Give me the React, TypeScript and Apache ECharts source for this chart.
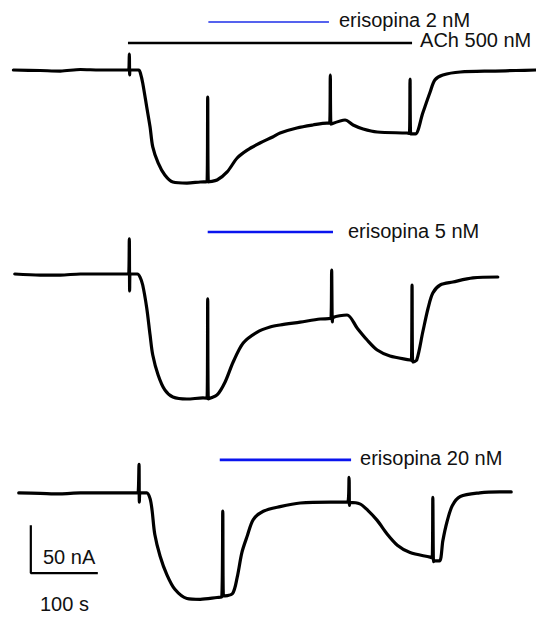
import React, { useEffect, useRef } from "react";
import * as echarts from "echarts";

// time in seconds, current in nA (baseline = 0)
const trace2nM: number[][] = [
  [20, 0], [60, -0.5], [90, -1], [120, 0.5], [149, 0], [188, 0],
  [192, 0], [193, 15.4], [193.5, -4.8], [194, 0],
  [207, 0], [210, -4], [213, -12.5], [219, -35.6], [224, -54.8], [228, -74], [236, -89.4],
  [246, -101], [258, -107.7], [279, -108.7], [299, -107.7],
  [309, -107.5], [310, -26], [311, -107.5],
  [324, -105.8], [339, -98], [354, -84.6], [369, -77], [388, -70.2], [407, -64.4],
  [418, -60.6], [443, -55.8], [467, -52.9], [488, -51],
  [492, -51], [493, -4.8], [494, -52],
  [515, -48.1], [527, -52.9], [542, -56.7], [563, -59.6], [607, -60.6],
  [611, -61], [612, -8.7], [613, -61.5],
  [620, -61.5], [631, -41.3], [642, -21.2], [649, -9.6], [661, -4.8], [687, -1.9],
  [739, -1], [770, -0.5], [800, 0],
];

const trace5nM: number[][] = [
  [22, 0], [60, -1], [90, -1], [120, 0], [149, 0], [190, 0],
  [192, 0], [193, 33.7], [193.5, -16.3], [194, 0],
  [205, 0], [209, -3], [213, -10.6], [219, -32.7], [224, -58.7], [228, -77.9], [236, -97.1],
  [246, -111.5], [258, -118.3], [279, -120.2], [303, -119.2],
  [309, -119.5], [310, -24], [311, -120],
  [324, -116.3], [336, -103.8], [348, -84.6], [363, -66.3], [384, -55.8], [403, -51],
  [418, -49], [448, -46.2], [478, -43.3],
  [494, -42.5], [495, 3.8], [496, -46], [497, -42],
  [518, -39.4], [533, -51.9], [548, -63.5], [563, -73.1], [582, -78.8], [612, -82.7],
  [614, -83], [615, -10.6], [616, -84.6],
  [622, -82.7], [631, -55.8], [639, -32.7], [646, -18.3], [657, -10.6], [676, -7.7],
  [706, -3.8], [743, -2.9],
];

const trace20nM: number[][] = [
  [28, 0], [60, -0.5], [90, -1], [120, 0], [149, 0], [204, 0],
  [206, 0], [207.5, 29.8], [208, -9.6], [209, 0],
  [219, 0], [224, -6], [227, -18.3], [231, -43.3], [239, -66.3], [249, -85.6], [261, -101],
  [279, -110.6], [299, -111.5], [324, -109.6],
  [331, -109], [332.5, -19.2], [333.5, -108],
  [347, -105.5], [354, -88.5], [361, -62.5], [369, -45.2], [378, -27.9], [393, -19.2],
  [418, -14.4], [448, -10.6], [493, -9.6],
  [519, -9.6], [521, 16.3], [521.5, -13], [522, -10],
  [537, -11.5], [549, -18.3], [563, -28.8], [578, -43.3], [593, -54.8], [612, -62.5],
  [642, -67.3],
  [645, -68], [646, -4.8], [647, -72], [648, -71],
  [656, -71.2], [661, -50], [667, -30.8], [675, -13.5], [687, -3.8], [716, 0],
  [746, 1], [763, 1],
];

const traces = [trace2nM, trace5nM, trace20nM];
const eriLabels = ["erisopina 2 nM", "erisopina 5 nM", "erisopina 20 nM"];
const eriPeriods = [[311, 491], [310, 497], [328, 524]];
const achLabel = "ACh 500 nM";
const achPeriod = [191, 615];
const scaleBarTime = 100; // s
const scaleBarCurrent = 50; // nA
const scaleBarLabels = ["50 nA", "100 s"];

// layout (pixels / style only)
const PX_PER_NA = 1.04;
const Y_MAX = 60;
const Y_MIN = -130;
const baselinesPx = [70, 274, 498];
const eriLevel = [46.2, 40.4, 34.6];
const eriWidth = [1.4, 2.6, 2.6];
const eriColor = ["#1c2ee8", "#0a14ee", "#0a14ee"];
const eriLabelOffset = [[10, -2], [15, -1], [9, -2]];
const achLevel = 26;
const FONT = "'Liberation Sans', Arial, Helvetica, sans-serif";

export default function App() {
  const ref = useRef<HTMLDivElement>(null);
  useEffect(() => {
    if (!ref.current) return;
    const chart = echarts.init(ref.current, undefined, { renderer: "svg" });
    const gridH = (Y_MAX - Y_MIN) * PX_PER_NA;
    const grids = baselinesPx.map((b) => ({
      left: 0,
      width: 536,
      top: b - Y_MAX * PX_PER_NA,
      height: gridH,
      containLabel: false,
    }));
    const xAxes = traces.map((_, i) => ({
      type: "value", gridIndex: i, min: 0, max: 800, show: false,
    }));
    const yAxes = traces.map((_, i) => ({
      type: "value", gridIndex: i, min: Y_MIN, max: Y_MAX, show: false,
    }));
    const series: any[] = [];
    traces.forEach((t, i) => {
      series.push({
        type: "line",
        xAxisIndex: i,
        yAxisIndex: i,
        data: t,
        symbol: "none",
        smooth: 0.3,
        clip: false,
        silent: true,
        lineStyle: { color: "#000", width: 3.2, join: "round", cap: "round" },
      });
      series.push({
        type: "line",
        name: eriLabels[i],
        xAxisIndex: i,
        yAxisIndex: i,
        data: [[eriPeriods[i][0], eriLevel[i]], [eriPeriods[i][1], eriLevel[i]]],
        symbol: "none",
        clip: false,
        silent: true,
        lineStyle: { color: eriColor[i], width: eriWidth[i] },
        endLabel: {
          show: true,
          formatter: eriLabels[i],
          distance: 0,
          offset: eriLabelOffset[i],
          color: "#111",
          fontSize: 20,
          fontFamily: FONT,
        },
      });
    });
    series.push({
      type: "line",
      name: achLabel,
      xAxisIndex: 0,
      yAxisIndex: 0,
      data: [[achPeriod[0], achLevel], [achPeriod[1], achLevel]],
      symbol: "none",
      clip: false,
      silent: true,
      lineStyle: { color: "#000", width: 2.4 },
      endLabel: {
        show: true,
        formatter: achLabel,
        distance: 0,
        offset: [8, -3],
        color: "#111",
        fontSize: 20,
        fontFamily: FONT,
      },
    });
    // scale bar in the bottom panel
    const sx = 46;
    const sy = -84;
    series.push({
      type: "line",
      xAxisIndex: 2,
      yAxisIndex: 2,
      data: [[sx, sy + scaleBarCurrent], [sx, sy], [sx + scaleBarTime, sy]],
      symbol: "none",
      clip: false,
      silent: true,
      lineStyle: { color: "#000", width: 2.2 },
    });
    chart.setOption({
      animation: false,
      backgroundColor: "#fff",
      grid: grids,
      xAxis: xAxes,
      yAxis: yAxes,
      series,
      graphic: [
        {
          type: "text",
          left: 43,
          top: 558 - 11,
          style: { text: scaleBarLabels[0], fill: "#111", font: `20px ${FONT}` },
        },
        {
          type: "text",
          left: 40,
          top: 605 - 11,
          style: { text: scaleBarLabels[1], fill: "#111", font: `20px ${FONT}` },
        },
      ],
    });
    return () => chart.dispose();
  }, []);
  return (
    <div
      ref={ref}
      style={{ position: "absolute", left: 0, top: 0, width: 536, height: 617 }}
    />
  );
}
